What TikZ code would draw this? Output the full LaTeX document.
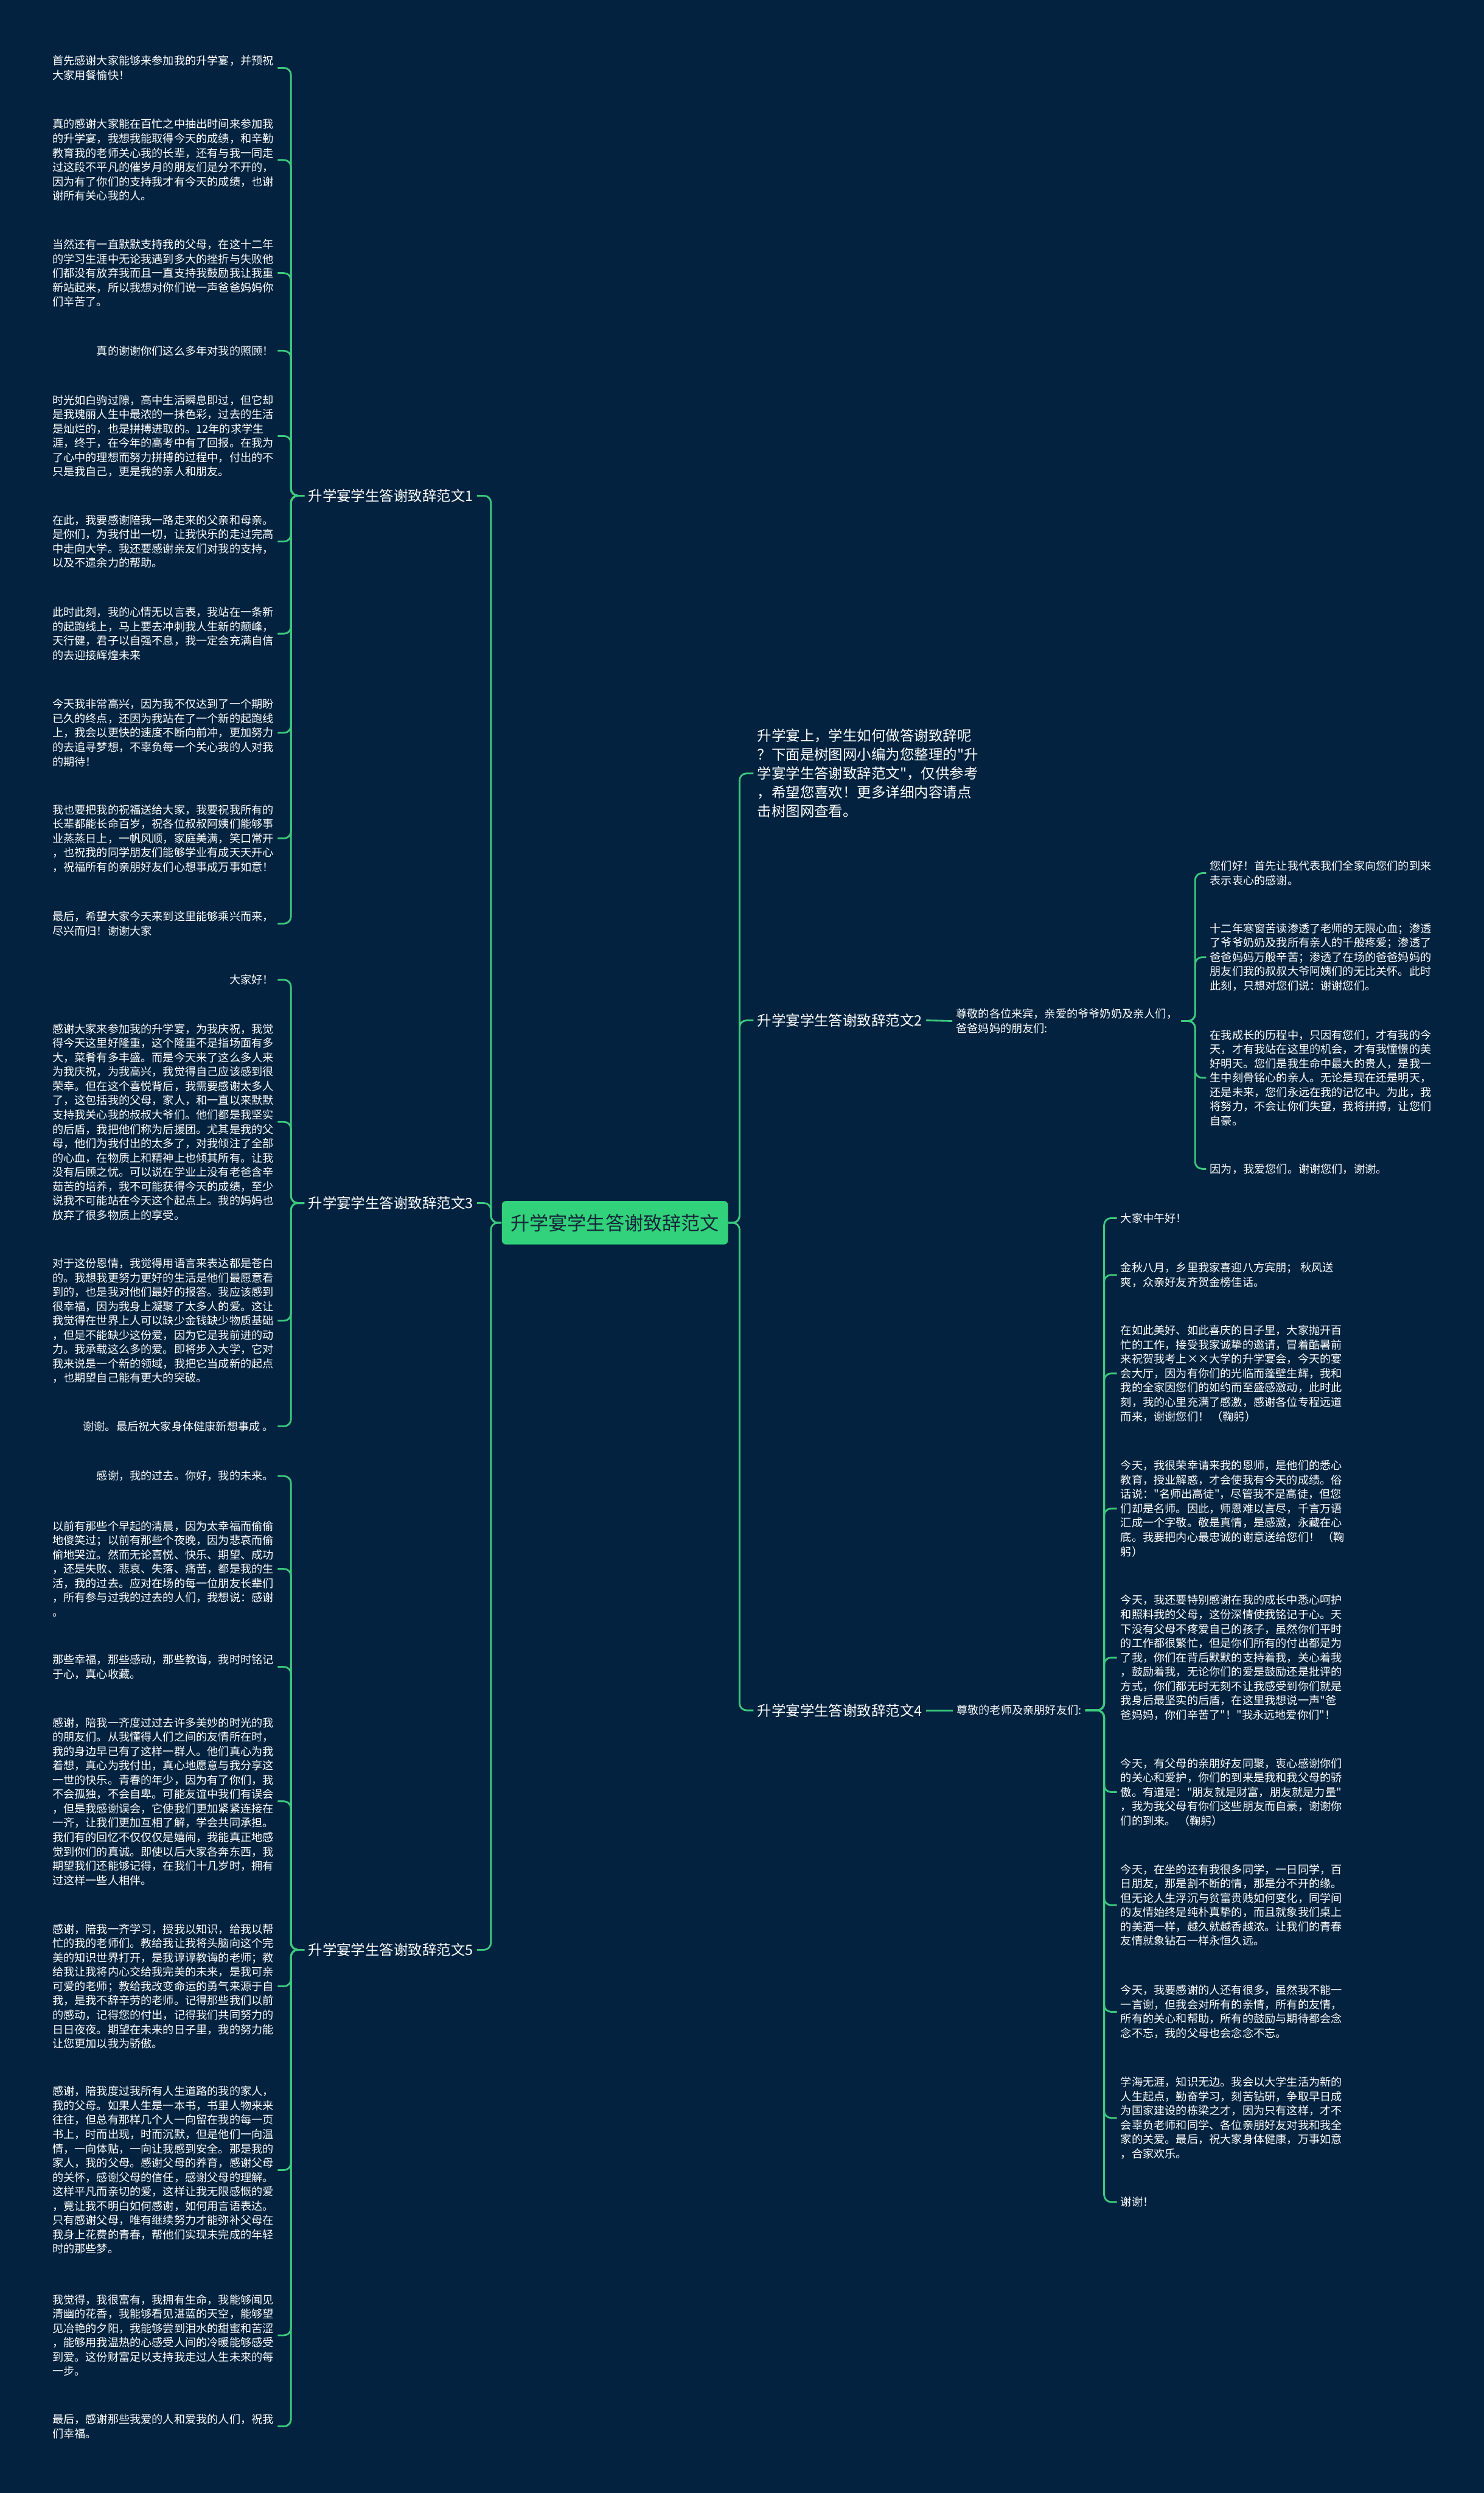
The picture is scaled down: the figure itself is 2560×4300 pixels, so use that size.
\documentclass[tikz,border=0pt]{standalone}
\usepackage{fontspec}
\newfontfamily\cjk{Noto Sans CJK SC}
\usepackage{tikz}
\definecolor{bgnavy}{HTML}{02223F}
\definecolor{linkgreen}{HTML}{3CC97E}
\definecolor{rootgreen}{HTML}{31D27B}
\definecolor{roottext}{HTML}{14283A}
\begin{document}
\begin{tikzpicture}[x=0.01cm,y=-0.01cm,
  link/.style={draw=linkgreen,line width=.85pt,rounded corners=.12cm},
  leafL/.style={anchor=east,text=white,align=left,inner xsep=.06cm,inner ysep=0pt,font=\cjk\fontsize{5.43}{7.03}\selectfont},
  leafR/.style={leafL,anchor=west},
  branch/.style={text=white,align=left,inner xsep=.06cm,inner ysep=0pt,font=\cjk\fontsize{7}{9.25}\selectfont}]
\useasboundingbox (0,0) rectangle (2560,4300);
\fill[bgnavy] (0,0) rectangle (2560,4300);
\node[fill=rootgreen,text=roottext,rounded corners=.07cm,minimum width=3.9cm,minimum height=.75cm,inner sep=0pt,font=\cjk\fontsize{9.3}{11}\selectfont] (root) at (1061,2109) {升学宴学生答谢致辞范文};
\coordinate (jl) at (847,2109);
\coordinate (jr) at (1276,2109);
\coordinate (j1) at (502,855);
\coordinate (j3) at (502,2075);
\coordinate (j5) at (502,3363);
\coordinate (j2) at (2062,1761);
\coordinate (j4) at (1905,2950);
\node[branch,anchor=east] (b1) at (823,855) {升学宴学生答谢致辞范文1};
\node[branch,anchor=east] (b3) at (823,2075) {升学宴学生答谢致辞范文3};
\node[branch,anchor=east] (b5) at (823,3363) {升学宴学生答谢致辞范文5};
\node[branch,anchor=west] (intro) at (1300,1334) {升学宴上，学生如何做答谢致辞呢\\
？下面是树图网小编为您整理的"升\\
学宴学生答谢致辞范文"，仅供参考\\
，希望您喜欢！更多详细内容请点\\
击树图网查看。};
\node[branch,anchor=west] (b2) at (1300,1760) {升学宴学生答谢致辞范文2};
\node[branch,anchor=west] (b4) at (1300,2950) {升学宴学生答谢致辞范文4};
\node[leafR] (b2c) at (1643,1761) {尊敬的各位来宾，亲爱的爷爷奶奶及亲人们，\\
爸爸妈妈的朋友们:};
\node[leafR] (b4c) at (1644,2950) {尊敬的老师及亲朋好友们:};
\node[leafL] (n1a) at (479,117) {首先感谢大家能够来参加我的升学宴，并预祝\\
大家用餐愉快！};
\node[leafL] (n1b) at (479,276) {真的感谢大家能在百忙之中抽出时间来参加我\\
的升学宴，我想我能取得今天的成绩，和辛勤\\
教育我的老师关心我的长辈，还有与我一同走\\
过这段不平凡的催岁月的朋友们是分不开的，\\
因为有了你们的支持我才有今天的成绩，也谢\\
谢所有关心我的人。};
\node[leafL] (n1c) at (479,471) {当然还有一直默默支持我的父母，在这十二年\\
的学习生涯中无论我遇到多大的挫折与失败他\\
们都没有放弃我而且一直支持我鼓励我让我重\\
新站起来，所以我想对你们说一声爸爸妈妈你\\
们辛苦了。};
\node[leafL] (n1d) at (479,605) {真的谢谢你们这么多年对我的照顾！};
\node[leafL] (n1e) at (479,752) {时光如白驹过隙，高中生活瞬息即过，但它却\\
是我瑰丽人生中最浓的一抹色彩，过去的生活\\
是灿烂的，也是拼搏进取的。12年的求学生\\
涯，终于，在今年的高考中有了回报。在我为\\
了心中的理想而努力拼搏的过程中，付出的不\\
只是我自己，更是我的亲人和朋友。};
\node[leafL] (n1f) at (479,934) {在此，我要感谢陪我一路走来的父亲和母亲。\\
是你们，为我付出一切，让我快乐的走过完高\\
中走向大学。我还要感谢亲友们对我的支持，\\
以及不遗余力的帮助。};
\node[leafL] (n1g) at (479,1093) {此时此刻，我的心情无以言表，我站在一条新\\
的起跑线上，马上要去冲刺我人生新的颠峰，\\
天行健，君子以自强不息，我一定会充满自信\\
的去迎接辉煌未来};
\node[leafL] (n1h) at (479,1264) {今天我非常高兴，因为我不仅达到了一个期盼\\
已久的终点，还因为我站在了一个新的起跑线\\
上，我会以更快的速度不断向前冲，更加努力\\
的去追寻梦想，不辜负每一个关心我的人对我\\
的期待！};
\node[leafL] (n1i) at (479,1446) {我也要把我的祝福送给大家，我要祝我所有的\\
长辈都能长命百岁，祝各位叔叔阿姨们能够事\\
业蒸蒸日上，一帆风顺，家庭美满，笑口常开\\
，也祝我的同学朋友们能够学业有成天天开心\\
，祝福所有的亲朋好友们心想事成万事如意！};
\node[leafL] (n1j) at (479,1593) {最后，希望大家今天来到这里能够乘兴而来，\\
尽兴而归！谢谢大家};
\node[leafL] (n3a) at (479,1690) {大家好！};
\node[leafL] (n3b) at (479,1935) {感谢大家来参加我的升学宴，为我庆祝，我觉\\
得今天这里好隆重，这个隆重不是指场面有多\\
大，菜肴有多丰盛。而是今天来了这么多人来\\
为我庆祝，为我高兴，我觉得自己应该感到很\\
荣幸。但在这个喜悦背后，我需要感谢太多人\\
了，这包括我的父母，家人，和一直以来默默\\
支持我关心我的叔叔大爷们。他们都是我坚实\\
的后盾，我把他们称为后援团。尤其是我的父\\
母，他们为我付出的太多了，对我倾注了全部\\
的心血，在物质上和精神上也倾其所有。让我\\
没有后顾之忧。可以说在学业上没有老爸含辛\\
茹苦的培养，我不可能获得今天的成绩，至少\\
说我不可能站在今天这个起点上。我的妈妈也\\
放弃了很多物质上的享受。};
\node[leafL] (n3c) at (479,2278) {对于这份恩情，我觉得用语言来表达都是苍白\\
的。我想我更努力更好的生活是他们最愿意看\\
到的，也是我对他们最好的报答。我应该感到\\
很幸福，因为我身上凝聚了太多人的爱。这让\\
我觉得在世界上人可以缺少金钱缺少物质基础\\
，但是不能缺少这份爱，因为它是我前进的动\\
力。我承载这么多的爱。即将步入大学，它对\\
我来说是一个新的领域，我把它当成新的起点\\
，也期望自己能有更大的突破。};
\node[leafL] (n3d) at (479,2460) {谢谢。最后祝大家身体健康新想事成 。};
\node[leafL] (n5a) at (479,2546) {感谢，我的过去。你好，我的未来。};
\node[leafL] (n5b) at (479,2706) {以前有那些个早起的清晨，因为太幸福而偷偷\\
地傻笑过；以前有那些个夜晚，因为悲哀而偷\\
偷地哭泣。然而无论喜悦、快乐、期望、成功\\
，还是失败、悲哀、失落、痛苦，都是我的生\\
活，我的过去。应对在场的每一位朋友长辈们\\
，所有参与过我的过去的人们，我想说：感谢\\
。};
\node[leafL] (n5c) at (479,2875) {那些幸福，那些感动，那些教诲，我时时铭记\\
于心，真心收藏。};
\node[leafL] (n5d) at (479,3107) {感谢，陪我一齐度过过去许多美妙的时光的我\\
的朋友们。从我懂得人们之间的友情所在时，\\
我的身边早已有了这样一群人。他们真心为我\\
着想，真心为我付出，真心地愿意与我分享这\\
一世的快乐。青春的年少，因为有了你们，我\\
不会孤独，不会自卑。可能友谊中我们有误会\\
，但是我感谢误会，它使我们更加紧紧连接在\\
一齐，让我们更加互相了解，学会共同承担。\\
我们有的回忆不仅仅仅是嬉闹，我能真正地感\\
觉到你们的真诚。即使以后大家各奔东西，我\\
期望我们还能够记得，在我们十几岁时，拥有\\
过这样一些人相伴。};
\node[leafL] (n5e) at (479,3426) {感谢，陪我一齐学习，授我以知识，给我以帮\\
忙的我的老师们。教给我让我将头脑向这个完\\
美的知识世界打开，是我谆谆教诲的老师；教\\
给我让我将内心交给我完美的未来，是我可亲\\
可爱的老师；教给我改变命运的勇气来源于自\\
我，是我不辞辛劳的老师。记得那些我们以前\\
的感动，记得您的付出，记得我们共同努力的\\
日日夜夜。期望在未来的日子里，我的努力能\\
让您更加以我为骄傲。};
\node[leafL] (n5f) at (479,3743) {感谢，陪我度过我所有人生道路的我的家人，\\
我的父母。如果人生是一本书，书里人物来来\\
往往，但总有那样几个人一向留在我的每一页\\
书上，时而出现，时而沉默，但是他们一向温\\
情，一向体贴，一向让我感到安全。那是我的\\
家人，我的父母。感谢父母的养育，感谢父母\\
的关怀，感谢父母的信任，感谢父母的理解。\\
这样平凡而亲切的爱，这样让我无限感慨的爱\\
，竟让我不明白如何感谢，如何用言语表达。\\
只有感谢父母，唯有继续努力才能弥补父母在\\
我身上花费的青春，帮他们实现未完成的年轻\\
时的那些梦。};
\node[leafL] (n5g) at (479,4028) {我觉得，我很富有，我拥有生命，我能够闻见\\
清幽的花香，我能够看见湛蓝的天空，能够望\\
见冶艳的夕阳，我能够尝到泪水的甜蜜和苦涩\\
，能够用我温热的心感受人间的冷暖能够感受\\
到爱。这份财富足以支持我走过人生未来的每\\
一步。};
\node[leafL] (n5h) at (479,4185) {最后，感谢那些我爱的人和爱我的人们，祝我\\
们幸福。};
\node[leafR] (n2a) at (2081,1506) {您们好！首先让我代表我们全家向您们的到来\\
表示衷心的感谢。};
\node[leafR] (n2b) at (2081,1651) {十二年寒窗苦读渗透了老师的无限心血；渗透\\
了爷爷奶奶及我所有亲人的千般疼爱；渗透了\\
爸爸妈妈万般辛苦；渗透了在场的爸爸妈妈的\\
朋友们我的叔叔大爷阿姨们的无比关怀。此时\\
此刻，只想对您们说：谢谢您们。};
\node[leafR] (n2c) at (2081,1859) {在我成长的历程中，只因有您们，才有我的今\\
天，才有我站在这里的机会，才有我憧憬的美\\
好明天。您们是我生命中最大的贵人，是我一\\
生中刻骨铭心的亲人。无论是现在还是明天，\\
还是未来，您们永远在我的记忆中。为此，我\\
将努力，不会让你们失望，我将拼搏，让您们\\
自豪。};
\node[leafR] (n2d) at (2081,2016) {因为，我爱您们。谢谢您们，谢谢。};
\node[leafR] (n4a) at (1927,2101) {大家中午好！};
\node[leafR] (n4b) at (1927,2199) {金秋八月，乡里我家喜迎八方宾朋； 秋风送\\
爽，众亲好友齐贺金榜佳话。};
\node[leafR] (n4c) at (1927,2369) {在如此美好、如此喜庆的日子里，大家抛开百\\
忙的工作，接受我家诚挚的邀请，冒着酷暑前\\
来祝贺我考上××大学的升学宴会，今天的宴\\
会大厅，因为有你们的光临而蓬壁生辉，我和\\
我的全家因您们的如约而至盛感激动，此时此\\
刻，我的心里充满了感激，感谢各位专程远道\\
而来，谢谢您们！ （鞠躬）};
\node[leafR] (n4d) at (1927,2602) {今天，我很荣幸请来我的恩师，是他们的悉心\\
教育，授业解惑，才会使我有今天的成绩。俗\\
话说："名师出高徒"，尽管我不是高徒，但您\\
们却是名师。因此，师恩难以言尽，千言万语\\
汇成一个字敬。敬是真情，是感激，永藏在心\\
底。我要把内心最忠诚的谢意送给您们！ （鞠\\
躬）};
\node[leafR] (n4e) at (1927,2859) {今天，我还要特别感谢在我的成长中悉心呵护\\
和照料我的父母，这份深情使我铭记于心。天\\
下没有父母不疼爱自己的孩子，虽然你们平时\\
的工作都很繁忙，但是你们所有的付出都是为\\
了我，你们在背后默默的支持着我，关心着我\\
，鼓励着我，无论你们的爱是鼓励还是批评的\\
方式，你们都无时无刻不让我感受到你们就是\\
我身后最坚实的后盾，在这里我想说一声"爸\\
爸妈妈，你们辛苦了"！"我永远地爱你们"！};
\node[leafR] (n4f) at (1927,3091) {今天，有父母的亲朋好友同聚，衷心感谢你们\\
的关心和爱护，你们的到来是我和我父母的骄\\
傲。有道是："朋友就是财富，朋友就是力量"\\
，我为我父母有你们这些朋友而自豪，谢谢你\\
们的到来。 （鞠躬）};
\node[leafR] (n4g) at (1927,3286) {今天，在坐的还有我很多同学，一日同学，百\\
日朋友，那是割不断的情，那是分不开的缘。\\
但无论人生浮沉与贫富贵贱如何变化，同学间\\
的友情始终是纯朴真挚的，而且就象我们桌上\\
的美酒一样，越久就越香越浓。让我们的青春\\
友情就象钻石一样永恒久远。};
\node[leafR] (n4h) at (1927,3470) {今天，我要感谢的人还有很多，虽然我不能一\\
一言谢，但我会对所有的亲情，所有的友情，\\
所有的关心和帮助，所有的鼓励与期待都会念\\
念不忘，我的父母也会念念不忘。};
\node[leafR] (n4i) at (1927,3653) {学海无涯，知识无边。我会以大学生活为新的\\
人生起点，勤奋学习，刻苦钻研，争取早日成\\
为国家建设的栋梁之才，因为只有这样，才不\\
会辜负老师和同学、各位亲朋好友对我和我全\\
家的关爱。最后，祝大家身体健康，万事如意\\
，合家欢乐。};
\node[leafR] (n4j) at (1927,3798) {谢谢！};
\draw[link] (root.west) -- (jl) |- (b1.east);
\draw[link] (root.west) -- (jl) |- (b3.east);
\draw[link] (root.west) -- (jl) |- (b5.east);
\draw[link] (root.east) -- (jr) |- (intro.west);
\draw[link] (root.east) -- (jr) |- (b2.west);
\draw[link] (root.east) -- (jr) |- (b4.west);
\draw[link] (b2.east) -- (b2c.west);
\draw[link] (b4.east) -- (b4c.west);
\draw[link] (b1.west) -- (j1) |- (n1a.east);
\draw[link] (b1.west) -- (j1) |- (n1b.east);
\draw[link] (b1.west) -- (j1) |- (n1c.east);
\draw[link] (b1.west) -- (j1) |- (n1d.east);
\draw[link] (b1.west) -- (j1) |- (n1e.east);
\draw[link] (b1.west) -- (j1) |- (n1f.east);
\draw[link] (b1.west) -- (j1) |- (n1g.east);
\draw[link] (b1.west) -- (j1) |- (n1h.east);
\draw[link] (b1.west) -- (j1) |- (n1i.east);
\draw[link] (b1.west) -- (j1) |- (n1j.east);
\draw[link] (b3.west) -- (j3) |- (n3a.east);
\draw[link] (b3.west) -- (j3) |- (n3b.east);
\draw[link] (b3.west) -- (j3) |- (n3c.east);
\draw[link] (b3.west) -- (j3) |- (n3d.east);
\draw[link] (b5.west) -- (j5) |- (n5a.east);
\draw[link] (b5.west) -- (j5) |- (n5b.east);
\draw[link] (b5.west) -- (j5) |- (n5c.east);
\draw[link] (b5.west) -- (j5) |- (n5d.east);
\draw[link] (b5.west) -- (j5) |- (n5e.east);
\draw[link] (b5.west) -- (j5) |- (n5f.east);
\draw[link] (b5.west) -- (j5) |- (n5g.east);
\draw[link] (b5.west) -- (j5) |- (n5h.east);
\draw[link] (b2c.east) -- (j2) |- (n2a.west);
\draw[link] (b2c.east) -- (j2) |- (n2b.west);
\draw[link] (b2c.east) -- (j2) |- (n2c.west);
\draw[link] (b2c.east) -- (j2) |- (n2d.west);
\draw[link] (b4c.east) -- (j4) |- (n4a.west);
\draw[link] (b4c.east) -- (j4) |- (n4b.west);
\draw[link] (b4c.east) -- (j4) |- (n4c.west);
\draw[link] (b4c.east) -- (j4) |- (n4d.west);
\draw[link] (b4c.east) -- (j4) |- (n4e.west);
\draw[link] (b4c.east) -- (j4) |- (n4f.west);
\draw[link] (b4c.east) -- (j4) |- (n4g.west);
\draw[link] (b4c.east) -- (j4) |- (n4h.west);
\draw[link] (b4c.east) -- (j4) |- (n4i.west);
\draw[link] (b4c.east) -- (j4) |- (n4j.west);
\end{tikzpicture}
\end{document}
